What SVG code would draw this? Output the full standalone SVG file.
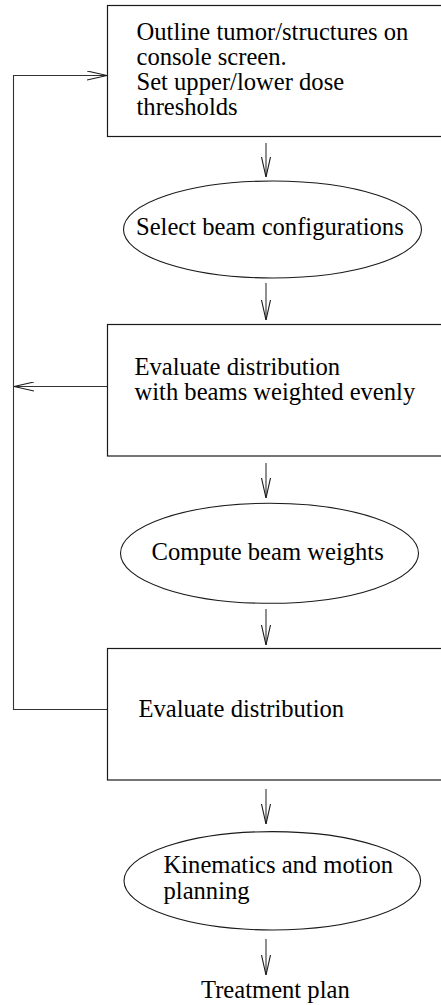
<svg xmlns="http://www.w3.org/2000/svg" width="441" height="1005" viewBox="0 0 441 1005">
  <style>
    .box { fill: #ffffff; stroke: #1a1a1a; stroke-width: 1.2; }
    .oval { fill: #ffffff; stroke: #1a1a1a; stroke-width: 1.1; }
    .wire { fill: none; stroke: #333333; stroke-width: 1.1; }
    .label { font-family: "Liberation Serif", "Times New Roman", serif; font-size: 24.6px; fill: #000000; }
  </style>
  <defs>
    <marker id="open-head" viewBox="0 0 20 10" refX="20" refY="5" markerWidth="20" markerHeight="10" markerUnits="userSpaceOnUse" orient="auto">
      <path d="M0,0.5 L20,5 L0,9.5" fill="none" stroke="#1a1a1a" stroke-width="1.1"/>
    </marker>
  </defs>
  <rect width="441" height="1005" fill="#ffffff"/>

  <g id="connectors">
    <line class="wire" x1="266" y1="143" x2="266" y2="177" marker-end="url(#open-head)"/>
    <line class="wire" x1="266" y1="283" x2="266" y2="320" marker-end="url(#open-head)"/>
    <line class="wire" x1="266" y1="463" x2="266" y2="498" marker-end="url(#open-head)"/>
    <line class="wire" x1="266" y1="609" x2="266" y2="645" marker-end="url(#open-head)"/>
    <line class="wire" x1="266" y1="789" x2="266" y2="824" marker-end="url(#open-head)"/>
    <line class="wire" x1="266" y1="939" x2="266" y2="975" marker-end="url(#open-head)"/>
    <!-- feedback loop back to the outline step -->
    <path class="wire" d="M107,709.5 H13.5 V75.5 H107" marker-end="url(#open-head)"/>
    <line class="wire" x1="107" y1="386.5" x2="14" y2="386.5" marker-end="url(#open-head)"/>
  </g>

  <g id="outline-step">
    <rect class="box" x="107.5" y="5.5" width="400" height="131"/>
    <text class="label" x="136.5" y="39.5">Outline tumor/structures on</text>
    <text class="label" x="136.5" y="64.5">console screen.</text>
    <text class="label" x="136.5" y="89.5">Set upper/lower dose</text>
    <text class="label" x="136.5" y="114.5">thresholds</text>
  </g>

  <g id="select-beams">
    <ellipse class="oval" cx="272.5" cy="229.5" rx="149" ry="48.5"/>
    <text class="label" x="136" y="235">Select beam configurations</text>
  </g>

  <g id="evaluate-even">
    <rect class="box" x="107.5" y="324.5" width="400" height="131.5"/>
    <text class="label" x="134.5" y="375">Evaluate distribution</text>
    <text class="label" x="134.5" y="400">with beams weighted evenly</text>
  </g>

  <g id="compute-weights">
    <ellipse class="oval" cx="269.5" cy="553.3" rx="149" ry="50"/>
    <text class="label" x="151.5" y="560">Compute beam weights</text>
  </g>

  <g id="evaluate-final">
    <rect class="box" x="107.5" y="648.5" width="400" height="131.5"/>
    <text class="label" x="138.5" y="716.5">Evaluate distribution</text>
  </g>

  <g id="kinematics">
    <ellipse class="oval" cx="272.3" cy="880.8" rx="148.3" ry="49.2"/>
    <text class="label" x="163.5" y="873">Kinematics and motion</text>
    <text class="label" x="163.5" y="898.5">planning</text>
  </g>

  <g id="treatment-plan">
    <text class="label" x="201" y="998">Treatment plan</text>
  </g>
</svg>
